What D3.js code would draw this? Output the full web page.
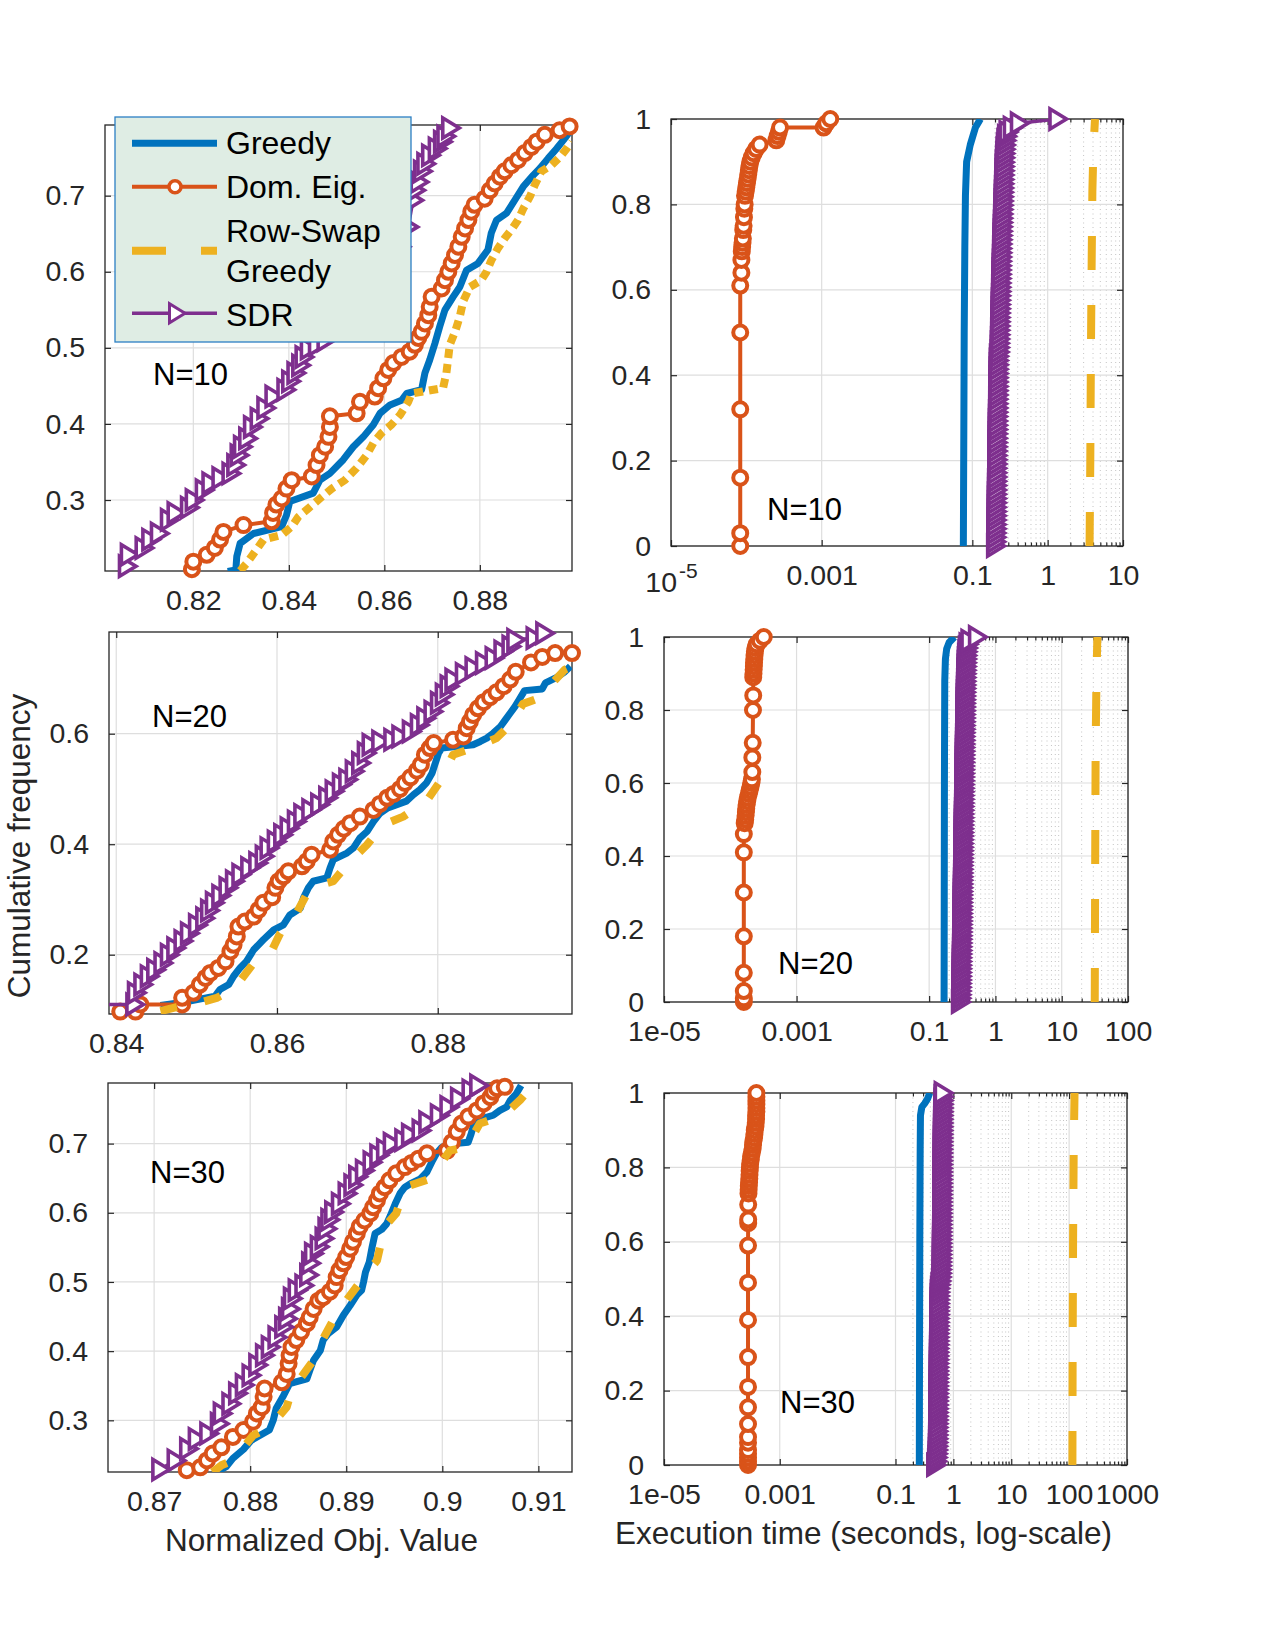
<!DOCTYPE html>
<html>
<head>
<meta charset="utf-8">
<script src="https://cdn.jsdelivr.net/npm/d3@7"></script>
<style>
  body { margin: 0; background: #fff; }
  svg { display: block; }
</style>
</head>
<body>
<div id="chart"></div>
<script>
// ---- data -------------------------------------------------------------
const methods = ["Greedy", "Dom. Eig.", "Row-Swap Greedy", "SDR"];
const panelLabels = ["N=10", "N=20", "N=30"];
const axisTitles = ["Cumulative frequency", "Normalized Obj. Value", "Execution time (seconds, log-scale)"];

const objTicks10 = [0.82, 0.84, 0.86, 0.88];
const objTicks20 = [0.84, 0.86, 0.88];
const objTicks30 = [0.87, 0.88, 0.89, 0.9, 0.91];
const freqTicks10 = [0.3, 0.4, 0.5, 0.6, 0.7];
const freqTicks20 = [0.2, 0.4, 0.6];
const freqTicks30 = [0.3, 0.4, 0.5, 0.6, 0.7];
const freqTicksTime = [0, 0.2, 0.4, 0.6, 0.8, 1];
const timeTicks10 = [1e-5, 1e-3, 0.1, 1, 10];
const timeTicks20 = [1e-5, 1e-3, 0.1, 1, 10, 100];
const timeTicks30 = [1e-5, 1e-3, 0.1, 1, 10, 100, 1000];

// normalized objective value vs cumulative frequency, N=10
const objGreedy10 = [[0.8272,0.206],[0.8289,0.208],[0.8291,0.226],[0.8298,0.243],[0.8326,0.256],[0.8385,0.265],[0.8395,0.280],[0.8402,0.298],[0.8451,0.309],[0.8465,0.326],[0.8486,0.335],[0.8514,0.353],[0.8535,0.370],[0.8556,0.383],[0.8577,0.399],[0.8591,0.414],[0.8612,0.425],[0.8636,0.431],[0.8647,0.440],[0.8678,0.445],[0.8685,0.467],[0.8695,0.484],[0.8706,0.506],[0.8716,0.528],[0.8727,0.550],[0.8744,0.567],[0.8758,0.580],[0.8772,0.602],[0.8796,0.611],[0.8817,0.629],[0.8824,0.651],[0.8835,0.668],[0.8856,0.677],[0.8873,0.694],[0.8891,0.712],[0.8912,0.727],[0.8926,0.736],[0.8943,0.749],[0.8961,0.762],[0.8975,0.773],[0.8988,0.784],[0.8992,0.793]];
const objDomEig10 = [[0.8197,0.209],[0.8200,0.219],[0.8228,0.228],[0.8245,0.237],[0.8256,0.248],[0.8263,0.258],[0.8305,0.267],[0.8364,0.272],[0.8367,0.283],[0.8374,0.294],[0.8385,0.302],[0.8395,0.315],[0.8406,0.326],[0.8448,0.331],[0.8458,0.346],[0.8465,0.359],[0.8476,0.370],[0.8483,0.383],[0.8486,0.396],[0.8486,0.410],[0.8542,0.414],[0.8549,0.429],[0.8580,0.436],[0.8587,0.447],[0.8598,0.460],[0.8608,0.471],[0.8619,0.480],[0.8636,0.488],[0.8653,0.495],[0.8664,0.504],[0.8671,0.513],[0.8678,0.521],[0.8685,0.532],[0.8692,0.543],[0.8695,0.554],[0.8699,0.567],[0.8720,0.578],[0.8727,0.589],[0.8734,0.600],[0.8741,0.611],[0.8748,0.622],[0.8755,0.633],[0.8762,0.646],[0.8769,0.657],[0.8776,0.668],[0.8782,0.679],[0.8789,0.688],[0.8810,0.696],[0.8821,0.707],[0.8831,0.716],[0.8842,0.725],[0.8852,0.732],[0.8866,0.740],[0.8880,0.747],[0.8894,0.756],[0.8908,0.764],[0.8919,0.771],[0.8936,0.780],[0.8967,0.786],[0.8988,0.791]];
const objRowSwap10 = [[0.8298,0.207],[0.8312,0.217],[0.8329,0.232],[0.8347,0.248],[0.8385,0.254],[0.8406,0.265],[0.8420,0.278],[0.8441,0.289],[0.8465,0.302],[0.8490,0.315],[0.8517,0.326],[0.8542,0.342],[0.8563,0.359],[0.8577,0.375],[0.8594,0.388],[0.8615,0.399],[0.8633,0.412],[0.8650,0.429],[0.8657,0.440],[0.8723,0.447],[0.8730,0.467],[0.8734,0.488],[0.8737,0.504],[0.8748,0.521],[0.8758,0.541],[0.8765,0.561],[0.8779,0.580],[0.8803,0.589],[0.8814,0.600],[0.8824,0.615],[0.8838,0.631],[0.8852,0.644],[0.8866,0.655],[0.8880,0.668],[0.8891,0.683],[0.8905,0.699],[0.8915,0.714],[0.8929,0.732],[0.8950,0.740],[0.8968,0.751],[0.8982,0.762],[0.8992,0.771]];
const objSdr10 = [[0.8060,0.213],[0.8064,0.228],[0.8095,0.237],[0.8109,0.248],[0.8127,0.256],[0.8148,0.274],[0.8162,0.283],[0.8190,0.290],[0.8200,0.300],[0.8221,0.313],[0.8235,0.322],[0.8256,0.329],[0.8277,0.335],[0.8287,0.346],[0.8294,0.359],[0.8301,0.370],[0.8312,0.381],[0.8322,0.396],[0.8336,0.407],[0.8350,0.421],[0.8367,0.436],[0.8392,0.445],[0.8402,0.456],[0.8413,0.467],[0.8423,0.477],[0.8430,0.488],[0.8441,0.499],[0.8458,0.504],[0.8476,0.510],[0.8500,0.523],[0.8528,0.541],[0.8556,0.563],[0.8584,0.585],[0.8612,0.607],[0.8633,0.633],[0.8650,0.659],[0.8660,0.694],[0.8664,0.707],[0.8671,0.718],[0.8678,0.732],[0.8685,0.742],[0.8695,0.753],[0.8709,0.762],[0.8720,0.771],[0.8727,0.778],[0.8737,0.789]];

// N=20
const objGreedy20 = [[0.8455,0.108],[0.8488,0.115],[0.8523,0.125],[0.8529,0.137],[0.8540,0.146],[0.8546,0.161],[0.8554,0.176],[0.8562,0.188],[0.8571,0.209],[0.8583,0.227],[0.8596,0.245],[0.8608,0.254],[0.8616,0.272],[0.8629,0.284],[0.8633,0.303],[0.8639,0.321],[0.8645,0.333],[0.8662,0.339],[0.8666,0.357],[0.8670,0.372],[0.8687,0.384],[0.8695,0.393],[0.8703,0.411],[0.8712,0.423],[0.8720,0.441],[0.8728,0.456],[0.8737,0.465],[0.8761,0.478],[0.8770,0.490],[0.8778,0.499],[0.8786,0.511],[0.8793,0.529],[0.8797,0.547],[0.8801,0.565],[0.8805,0.574],[0.8844,0.580],[0.8853,0.586],[0.8861,0.592],[0.8869,0.601],[0.8878,0.613],[0.8884,0.625],[0.8890,0.637],[0.8896,0.649],[0.8901,0.661],[0.8908,0.678],[0.8930,0.681],[0.8934,0.692],[0.8948,0.702],[0.8958,0.712],[0.8965,0.722]];
const objDomEig20 = [[0.8405,0.097],[0.8424,0.097],[0.8430,0.110],[0.8482,0.110],[0.8482,0.122],[0.8496,0.131],[0.8504,0.146],[0.8511,0.158],[0.8517,0.167],[0.8527,0.176],[0.8536,0.188],[0.8542,0.206],[0.8546,0.218],[0.8550,0.233],[0.8552,0.251],[0.8560,0.260],[0.8571,0.269],[0.8577,0.281],[0.8583,0.294],[0.8594,0.304],[0.8598,0.321],[0.8602,0.333],[0.8608,0.342],[0.8614,0.351],[0.8631,0.360],[0.8637,0.369],[0.8643,0.381],[0.8666,0.390],[0.8670,0.405],[0.8676,0.417],[0.8683,0.428],[0.8691,0.438],[0.8703,0.450],[0.8720,0.462],[0.8728,0.473],[0.8737,0.484],[0.8745,0.491],[0.8753,0.500],[0.8759,0.511],[0.8766,0.521],[0.8774,0.533],[0.8779,0.544],[0.8784,0.562],[0.8790,0.574],[0.8795,0.583],[0.8819,0.589],[0.8832,0.595],[0.8836,0.610],[0.8840,0.622],[0.8844,0.634],[0.8850,0.646],[0.8857,0.657],[0.8865,0.666],[0.8873,0.675],[0.8882,0.686],[0.8890,0.698],[0.8897,0.712],[0.8916,0.729],[0.8930,0.739],[0.8946,0.746],[0.8967,0.746]];
const objRowSwap20 = [[0.8455,0.098],[0.8475,0.105],[0.8504,0.113],[0.8525,0.122],[0.8546,0.137],[0.8571,0.185],[0.8591,0.200],[0.8604,0.239],[0.8621,0.266],[0.8641,0.321],[0.8670,0.333],[0.8691,0.369],[0.8712,0.399],[0.8732,0.435],[0.8757,0.450],[0.8786,0.478],[0.8803,0.514],[0.8819,0.562],[0.8844,0.574],[0.8873,0.592],[0.8890,0.616],[0.8906,0.654],[0.8925,0.664],[0.8958,0.716],[0.8967,0.722]];
const objSdr20 = [[0.8386,0.110],[0.8422,0.110],[0.8424,0.131],[0.8432,0.146],[0.8440,0.161],[0.8448,0.173],[0.8457,0.185],[0.8465,0.200],[0.8473,0.212],[0.8482,0.225],[0.8490,0.239],[0.8500,0.254],[0.8509,0.266],[0.8515,0.280],[0.8521,0.294],[0.8529,0.307],[0.8538,0.321],[0.8546,0.333],[0.8554,0.345],[0.8565,0.357],[0.8575,0.366],[0.8583,0.378],[0.8589,0.393],[0.8598,0.405],[0.8606,0.417],[0.8614,0.429],[0.8623,0.441],[0.8631,0.453],[0.8641,0.462],[0.8652,0.472],[0.8662,0.484],[0.8670,0.496],[0.8679,0.508],[0.8687,0.517],[0.8695,0.532],[0.8703,0.547],[0.8710,0.565],[0.8716,0.580],[0.8728,0.586],[0.8743,0.589],[0.8753,0.595],[0.8766,0.604],[0.8776,0.616],[0.8784,0.628],[0.8793,0.640],[0.8801,0.656],[0.8807,0.671],[0.8813,0.686],[0.8819,0.698],[0.8832,0.708],[0.8844,0.719],[0.8857,0.728],[0.8869,0.737],[0.8880,0.749],[0.8890,0.758],[0.8896,0.770],[0.8920,0.773],[0.8932,0.782]];

// N=30
const objGreedy30 = [[0.8765,0.225],[0.8775,0.233],[0.8782,0.245],[0.8793,0.258],[0.8801,0.271],[0.8820,0.286],[0.8824,0.300],[0.8827,0.317],[0.8834,0.334],[0.8841,0.353],[0.8859,0.360],[0.8862,0.372],[0.8866,0.387],[0.8873,0.401],[0.8876,0.416],[0.8881,0.425],[0.8890,0.435],[0.8897,0.452],[0.8904,0.466],[0.8911,0.481],[0.8916,0.488],[0.8918,0.500],[0.8920,0.514],[0.8924,0.529],[0.8927,0.551],[0.8930,0.570],[0.8937,0.576],[0.8942,0.584],[0.8946,0.596],[0.8951,0.613],[0.8956,0.628],[0.8961,0.637],[0.8968,0.643],[0.8977,0.649],[0.8984,0.659],[0.8990,0.676],[0.8994,0.686],[0.8999,0.694],[0.9005,0.699],[0.9027,0.702],[0.9030,0.714],[0.9032,0.724],[0.9036,0.734],[0.9053,0.741],[0.9060,0.748],[0.9067,0.753],[0.9071,0.763],[0.9077,0.772],[0.9082,0.784]];
const objDomEig30 = [[0.8734,0.228],[0.8748,0.232],[0.8755,0.242],[0.8761,0.252],[0.8770,0.261],[0.8782,0.276],[0.8793,0.286],[0.8803,0.298],[0.8807,0.310],[0.8812,0.319],[0.8814,0.334],[0.8815,0.346],[0.8833,0.355],[0.8838,0.367],[0.8840,0.382],[0.8841,0.394],[0.8843,0.406],[0.8848,0.416],[0.8853,0.428],[0.8859,0.440],[0.8862,0.449],[0.8866,0.461],[0.8871,0.473],[0.8876,0.478],[0.8883,0.486],[0.8888,0.495],[0.8890,0.507],[0.8893,0.517],[0.8897,0.527],[0.8900,0.536],[0.8904,0.548],[0.8907,0.558],[0.8911,0.570],[0.8914,0.580],[0.8919,0.589],[0.8925,0.599],[0.8928,0.608],[0.8932,0.618],[0.8935,0.628],[0.8940,0.637],[0.8945,0.647],[0.8952,0.657],[0.8961,0.666],[0.8968,0.672],[0.8975,0.678],[0.8984,0.686],[0.9005,0.690],[0.9010,0.702],[0.9015,0.717],[0.9020,0.729],[0.9027,0.739],[0.9036,0.748],[0.9043,0.758],[0.9050,0.767],[0.9053,0.775],[0.9057,0.780],[0.9065,0.782]];
const objRowSwap30 = [[0.8761,0.225],[0.8770,0.235],[0.8782,0.242],[0.8803,0.278],[0.8820,0.290],[0.8838,0.319],[0.8843,0.343],[0.8866,0.387],[0.8874,0.413],[0.8890,0.454],[0.8900,0.473],[0.8921,0.512],[0.8932,0.531],[0.8940,0.580],[0.8952,0.599],[0.8961,0.637],[0.8987,0.649],[0.9008,0.690],[0.9025,0.695],[0.9039,0.729],[0.9064,0.741],[0.9081,0.763],[0.9093,0.782]];
const objSdr30 = [[0.8706,0.229],[0.8722,0.242],[0.8735,0.259],[0.8744,0.273],[0.8756,0.281],[0.8767,0.295],[0.8770,0.310],[0.8779,0.324],[0.8786,0.339],[0.8793,0.351],[0.8800,0.365],[0.8807,0.380],[0.8814,0.394],[0.8820,0.406],[0.8827,0.420],[0.8834,0.435],[0.8838,0.447],[0.8841,0.461],[0.8843,0.476],[0.8848,0.488],[0.8855,0.495],[0.8860,0.510],[0.8862,0.527],[0.8865,0.541],[0.8871,0.551],[0.8876,0.563],[0.8879,0.577],[0.8882,0.590],[0.8886,0.601],[0.8893,0.613],[0.8900,0.628],[0.8906,0.640],[0.8911,0.652],[0.8918,0.661],[0.8926,0.673],[0.8933,0.683],[0.8940,0.691],[0.8947,0.700],[0.8959,0.705],[0.8966,0.713],[0.8977,0.719],[0.8984,0.731],[0.8996,0.741],[0.9006,0.753],[0.9017,0.765],[0.9029,0.777],[0.9037,0.784]];

// execution time (s) vs cumulative frequency
const timeGreedy10 = [[0.076,0],[0.077,0.25],[0.078,0.5],[0.0795,0.7],[0.081,0.82],[0.084,0.9],[0.094,0.94],[0.11,0.98],[0.128,1.0]];
const timeDomEig10 = [[8.3e-5,0],[8.3e-5,0.03],[8.3e-5,0.16],[8.3e-5,0.32],[8.3e-5,0.50],[8.3e-5,0.61],[8.6e-5,0.64],[8.6e-5,0.67],[8.7e-5,0.69],[8.8e-5,0.70],[8.9e-5,0.71],[9.0e-5,0.72],[9.1e-5,0.74],[9.2e-5,0.75],[9.3e-5,0.77],[9.4e-5,0.79],[9.5e-5,0.80],[9.6e-5,0.82],[9.8e-5,0.83],[1.0e-4,0.84],[1.02e-4,0.85],[1.04e-4,0.86],[1.06e-4,0.87],[1.08e-4,0.88],[1.1e-4,0.89],[1.13e-4,0.90],[1.18e-4,0.91],[1.25e-4,0.92],[1.35e-4,0.93],[1.5e-4,0.94],[2.5e-4,0.95],[2.6e-4,0.96],[2.7e-4,0.97],[2.8e-4,0.98],[1.06e-3,0.98],[1.15e-3,0.99],[1.3e-3,1.0]];
const timeRowSwap10 = [[3.6,0],[3.68,0.2],[3.75,0.45],[3.84,0.67],[3.92,0.83],[4.05,0.93],[4.25,1.0]];
const sdrTime10 = [
  0.198,0.199,0.200,0.200,0.201,0.201,0.201,0.202,0.202,0.202,
  0.203,0.203,0.203,0.204,0.204,0.204,0.205,0.205,0.205,0.206,
  0.206,0.206,0.207,0.207,0.207,0.208,0.208,0.209,0.209,0.209,
  0.210,0.210,0.211,0.211,0.211,0.212,0.212,0.213,0.213,0.213,
  0.214,0.214,0.215,0.215,0.216,0.221,0.222,0.222,0.223,0.224,
  0.224,0.225,0.226,0.226,0.227,0.228,0.228,0.229,0.230,0.231,
  0.231,0.232,0.233,0.234,0.234,0.235,0.236,0.237,0.238,0.238,
  0.239,0.240,0.241,0.242,0.243,0.244,0.245,0.246,0.247,0.248,
  0.249,0.250,0.251,0.252,0.253,0.254,0.255,0.256,0.257,0.258,
  0.260,0.262,0.264,0.267,0.271,0.277,0.290,0.330,0.410,1.330];

const timeGreedy20 = [[0.168,0],[0.169,0.3],[0.170,0.6],[0.172,0.88],[0.176,0.94],[0.184,0.968],[0.2,0.985],[0.24,1.0]];
const timeDomEig20 = [[1.6e-4,0],[1.6e-4,0.01],[1.6e-4,0.03],[1.6e-4,0.08],[1.6e-4,0.18],[1.6e-4,0.30],[1.6e-4,0.41],[1.6e-4,0.46],[1.65e-4,0.49],[1.68e-4,0.50],[1.7e-4,0.51],[1.72e-4,0.52],[1.74e-4,0.53],[1.76e-4,0.54],[1.8e-4,0.55],[1.84e-4,0.56],[1.9e-4,0.57],[1.96e-4,0.58],[2.02e-4,0.59],[2.08e-4,0.60],[2.12e-4,0.61],[2.15e-4,0.63],[2.15e-4,0.67],[2.18e-4,0.71],[2.2e-4,0.80],[2.22e-4,0.84],[2.22e-4,0.89],[2.24e-4,0.90],[2.25e-4,0.91],[2.27e-4,0.92],[2.28e-4,0.93],[2.3e-4,0.94],[2.32e-4,0.95],[2.35e-4,0.96],[2.4e-4,0.97],[2.5e-4,0.98],[2.8e-4,0.99],[3.2e-4,1.0]];
const timeRowSwap20 = [[31.5,0],[32,0.4],[32.5,0.7],[33.5,0.9],[34.5,1.0]];
const sdrTime20 = [
  0.288,0.290,0.291,0.292,0.293,0.293,0.294,0.295,0.295,0.296,
  0.296,0.297,0.297,0.298,0.299,0.299,0.300,0.300,0.301,0.301,
  0.302,0.302,0.303,0.304,0.304,0.305,0.305,0.306,0.306,0.307,
  0.307,0.308,0.309,0.309,0.310,0.310,0.311,0.311,0.312,0.313,
  0.313,0.314,0.314,0.315,0.315,0.316,0.317,0.317,0.318,0.318,
  0.319,0.319,0.320,0.321,0.321,0.322,0.322,0.323,0.324,0.324,
  0.325,0.325,0.326,0.327,0.327,0.328,0.328,0.329,0.330,0.330,
  0.331,0.332,0.332,0.333,0.334,0.334,0.335,0.336,0.336,0.337,
  0.338,0.338,0.339,0.340,0.341,0.342,0.343,0.344,0.345,0.346,
  0.347,0.349,0.351,0.353,0.356,0.360,0.366,0.375,0.400,0.520];

const timeGreedy30 = [[0.258,0],[0.26,0.3],[0.263,0.6],[0.267,0.85],[0.27,0.94],[0.285,0.962],[0.32,0.972],[0.36,0.985],[0.39,1.0]];
const timeDomEig30 = [[2.83e-4,0],[2.83e-4,0.01],[2.83e-4,0.02],[2.83e-4,0.03],[2.83e-4,0.04],[2.83e-4,0.06],[2.83e-4,0.075],[2.83e-4,0.11],[2.83e-4,0.155],[2.83e-4,0.21],[2.83e-4,0.29],[2.83e-4,0.39],[2.83e-4,0.49],[2.83e-4,0.59],[2.85e-4,0.65],[2.85e-4,0.66],[2.85e-4,0.70],[2.88e-4,0.73],[2.9e-4,0.74],[2.92e-4,0.75],[2.95e-4,0.76],[2.98e-4,0.77],[3.0e-4,0.78],[3.02e-4,0.79],[3.05e-4,0.80],[3.08e-4,0.81],[3.15e-4,0.82],[3.2e-4,0.83],[3.3e-4,0.84],[3.4e-4,0.85],[3.45e-4,0.86],[3.5e-4,0.87],[3.6e-4,0.88],[3.65e-4,0.89],[3.7e-4,0.90],[3.8e-4,0.91],[3.85e-4,0.92],[3.9e-4,0.93],[3.9e-4,0.94],[3.95e-4,0.95],[3.95e-4,0.96],[3.95e-4,0.97],[3.95e-4,0.98],[3.95e-4,0.99],[3.95e-4,1.0]];
const timeRowSwap30 = [[114,0],[115,0.3],[117,0.6],[120,0.85],[124,1.0]];
const sdrTime30 = [
  0.478,0.495,0.503,0.507,0.510,0.512,0.514,0.515,0.516,0.517,
  0.518,0.519,0.520,0.521,0.522,0.523,0.523,0.524,0.525,0.526,
  0.527,0.527,0.528,0.529,0.530,0.531,0.531,0.532,0.533,0.534,
  0.535,0.535,0.536,0.537,0.538,0.539,0.540,0.540,0.541,0.542,
  0.543,0.544,0.545,0.546,0.547,0.549,0.551,0.556,0.566,0.580,
  0.590,0.594,0.596,0.597,0.598,0.599,0.600,0.601,0.602,0.602,
  0.603,0.604,0.605,0.605,0.606,0.607,0.608,0.608,0.609,0.610,
  0.611,0.611,0.612,0.613,0.614,0.614,0.615,0.616,0.617,0.617,
  0.618,0.619,0.620,0.621,0.621,0.622,0.623,0.624,0.625,0.626,
  0.627,0.628,0.629,0.630,0.632,0.633,0.635,0.637,0.640,0.645];

// ---- drawing ----------------------------------------------------------
const FONT = '"Liberation Sans", Arial, Helvetica, sans-serif';
const INK = "#262626";
const COLORS = ["#0072bd", "#d95319", "#edb120", "#7e2f8e"];
const TRI = "M-7,-10L-7,10L9.5,0Z";

// empirical CDF from sorted samples
const ecdf = s => s.map((v, i) => [v, i / (s.length - 1)]);

const fmtLin = d3.format("~g");
const fmtTime = d => d === 1e-5 ? "1e-05" : d3.format("~g")(d);

const panels = [
  { left: 105, right: 572, top: 125, bottom: 571, log: false,
    xDomain: [0.8015, 0.8993], yDomain: [0.2067, 0.7929],
    xTicks: objTicks10, yTicks: freqTicks10, fmt: fmtLin, label: panelLabels[0], labelAt: [153, 385],
    series: [objGreedy10, objDomEig10, objRowSwap10, objSdr10], dash: "9,6" },
  { left: 671, right: 1123, top: 119, bottom: 546, log: true, sup: true,
    xDomain: [1e-5, 10], yDomain: [0, 1],
    xTicks: timeTicks10, yTicks: freqTicksTime, fmt: fmtTime, label: panelLabels[0], labelAt: [767, 520],
    series: [timeGreedy10, timeDomEig10, timeRowSwap10, ecdf(sdrTime10)], dash: "34,35" },
  { left: 109, right: 572, top: 632, bottom: 1014, log: false,
    xDomain: [0.8391, 0.8967], yDomain: [0.0927, 0.7841],
    xTicks: objTicks20, yTicks: freqTicks20, fmt: fmtLin, label: panelLabels[1], labelAt: [152, 727],
    series: [objGreedy20, objDomEig20, objRowSwap20, objSdr20], dash: "17,28" },
  { left: 664, right: 1128, top: 637, bottom: 1002, log: true,
    xDomain: [1e-5, 100], yDomain: [0, 1],
    xTicks: timeTicks20, yTicks: freqTicksTime, fmt: fmtTime, label: panelLabels[1], labelAt: [778, 974],
    series: [timeGreedy20, timeDomEig20, timeRowSwap20, ecdf(sdrTime20)], dash: "34,35" },
  { left: 108, right: 572, top: 1083, bottom: 1472, log: false,
    xDomain: [0.8652, 0.9135], yDomain: [0.2253, 0.7876],
    xTicks: objTicks30, yTicks: freqTicks30, fmt: fmtLin, label: panelLabels[2], labelAt: [150, 1183],
    series: [objGreedy30, objDomEig30, objRowSwap30, objSdr30], dash: "17,28" },
  { left: 664, right: 1127, top: 1093, bottom: 1465, log: true,
    xDomain: [1e-5, 1000], yDomain: [0, 1],
    xTicks: timeTicks30, yTicks: freqTicksTime, fmt: fmtTime, label: panelLabels[2], labelAt: [780, 1413],
    series: [timeGreedy30, timeDomEig30, timeRowSwap30, ecdf(sdrTime30)], dash: "34,35" }
];

const svg = d3.select("#chart").append("svg")
    .attr("width", 1275).attr("height", 1650)
    .style("background", "#fff")
    .attr("font-family", FONT);
const defs = svg.append("defs");

function styleAxis(sel, withText) {
  sel.attr("font-size", null).attr("font-family", null);
  sel.select(".domain").remove();
  sel.selectAll(".tick line").attr("stroke", INK).attr("stroke-width", 1.2);
  if (withText) sel.selectAll(".tick text").attr("fill", INK).attr("font-size", 28.5);
}

function drawPanel(p, k) {
  const x = (p.log ? d3.scaleLog() : d3.scaleLinear()).domain(p.xDomain).range([p.left, p.right]);
  const y = d3.scaleLinear().domain(p.yDomain).range([p.bottom, p.top]);
  const g = svg.append("g");

  defs.append("clipPath").attr("id", "clip" + k).append("rect")
      .attr("x", p.left).attr("y", p.top)
      .attr("width", p.right - p.left).attr("height", p.bottom - p.top);

  // minor log grid (only shown from 0.2 upward, as in the figure)
  let minors = [];
  if (p.log) {
    const hi = Math.round(Math.log10(p.xDomain[1]));
    for (let e = -1; e < hi; e++) for (let m = 2; m <= 9; m++) minors.push(m * Math.pow(10, e));
    g.append("g").selectAll("line").data(minors).join("line")
        .attr("x1", d => x(d)).attr("x2", d => x(d))
        .attr("y1", p.top).attr("y2", p.bottom)
        .attr("stroke", "#c4c4c4").attr("stroke-width", 1).attr("stroke-dasharray", "1,3.5");
  }

  // major grid
  g.append("g").selectAll("line").data(p.xTicks).join("line")
      .attr("x1", d => x(d)).attr("x2", d => x(d))
      .attr("y1", p.top).attr("y2", p.bottom)
      .attr("stroke", "#dedede").attr("stroke-width", 1.2);
  g.append("g").selectAll("line").data(p.yTicks).join("line")
      .attr("x1", p.left).attr("x2", p.right)
      .attr("y1", d => y(d)).attr("y2", d => y(d))
      .attr("stroke", "#dedede").attr("stroke-width", 1.2);

  // axes, ticks pointing inward
  const bottomAxis = g.append("g").attr("transform", `translate(0,${p.bottom})`)
      .call(d3.axisBottom(x).tickValues(p.xTicks).tickFormat(p.fmt).tickSize(-6).tickSizeOuter(0).tickPadding(19));
  styleAxis(bottomAxis, true);
  const topAxis = g.append("g").attr("transform", `translate(0,${p.top})`)
      .call(d3.axisTop(x).tickValues(p.xTicks).tickFormat("").tickSize(-6).tickSizeOuter(0));
  styleAxis(topAxis, false);
  const leftAxis = g.append("g").attr("transform", `translate(${p.left},0)`)
      .call(d3.axisLeft(y).tickValues(p.yTicks).tickFormat(fmtLin).tickSize(-6).tickSizeOuter(0).tickPadding(20));
  styleAxis(leftAxis, true);
  const rightAxis = g.append("g").attr("transform", `translate(${p.right},0)`)
      .call(d3.axisRight(y).tickValues(p.yTicks).tickFormat("").tickSize(-6).tickSizeOuter(0));
  styleAxis(rightAxis, false);

  if (p.log) {
    [[d3.axisBottom, p.bottom], [d3.axisTop, p.top]].forEach(([ax, pos]) => {
      const m = g.append("g").attr("transform", `translate(0,${pos})`)
          .call(ax(x).tickValues(minors).tickFormat("").tickSize(-3.5).tickSizeOuter(0));
      styleAxis(m, false);
    });
  }

  if (p.sup) {
    const t = bottomAxis.selectAll(".tick text").filter(d => d === 1e-5);
    t.text("10").attr("dy", "0.96em");
    t.append("tspan").attr("dx", 2).attr("dy", -14).attr("font-size", 21).text("-5");
  }

  g.append("rect")
      .attr("x", p.left).attr("y", p.top)
      .attr("width", p.right - p.left).attr("height", p.bottom - p.top)
      .attr("fill", "none").attr("stroke", INK).attr("stroke-width", 1.3);

  // series
  const line = d3.line().x(d => x(d[0])).y(d => y(d[1]));
  const inside = d => d[0] >= p.xDomain[0] && d[0] <= p.xDomain[1] && d[1] >= p.yDomain[0] - 1e-9 && d[1] <= p.yDomain[1];
  const plot = g.append("g");

  p.series.forEach((data, i) => {
    const path = plot.append("g").attr("clip-path", `url(#clip${k})`)
        .append("path").datum(data).attr("d", line)
        .attr("fill", "none").attr("stroke", COLORS[i])
        .attr("stroke-linejoin", "round");
    if (i === 0) path.attr("stroke-width", 7);
    if (i === 1) path.attr("stroke-width", 4);
    if (i === 2) path.attr("stroke-width", 8).attr("stroke-dasharray", p.dash);
    if (i === 3) path.attr("stroke-width", 3.5);

    if (i === 1) {
      plot.append("g").selectAll("circle").data(data.filter(inside)).join("circle")
          .attr("cx", d => x(d[0])).attr("cy", d => y(d[1])).attr("r", 7)
          .attr("fill", "#fff").attr("stroke", COLORS[1]).attr("stroke-width", 4);
    }
    if (i === 3) {
      plot.append("g").selectAll("path").data(data.filter(inside)).join("path")
          .attr("d", TRI)
          .attr("transform", d => `translate(${x(d[0])},${y(d[1])})`)
          .attr("fill", "#fff").attr("stroke", COLORS[3]).attr("stroke-width", 3.6)
          .attr("stroke-linejoin", "miter");
    }
  });

  g.append("text")
      .attr("x", p.labelAt[0]).attr("y", p.labelAt[1])
      .attr("font-size", 31).attr("fill", "#000")
      .text(p.label);
}

panels.forEach(drawPanel);

// axis titles
svg.append("text")
    .attr("transform", "translate(30,846) rotate(-90)")
    .attr("text-anchor", "middle").attr("font-size", 31.5).attr("fill", INK)
    .text(axisTitles[0]);
svg.append("text")
    .attr("x", 321.5).attr("y", 1551)
    .attr("text-anchor", "middle").attr("font-size", 31.5).attr("fill", INK)
    .text(axisTitles[1]);
svg.append("text")
    .attr("x", 863.5).attr("y", 1544)
    .attr("text-anchor", "middle").attr("font-size", 31.5).attr("fill", INK)
    .text(axisTitles[2]);

// legend (top-left panel)
const legend = svg.append("g");
legend.append("rect")
    .attr("x", 115).attr("y", 117).attr("width", 296).attr("height", 225)
    .attr("fill", "#dfede4").attr("stroke", "#2c7fc4").attr("stroke-width", 1.3);

const legendRows = [
  { lineY: 143.3, text: [[methods[0], 154]] },
  { lineY: 186.7, text: [[methods[1], 198]] },
  { lineY: 250.7, text: [[methods[2].split(" ")[0], 242], [methods[2].split(" ")[1], 282]] },
  { lineY: 313.3, text: [[methods[3], 326]] }
];
legendRows.forEach((r, i) => {
  const l = legend.append("line")
      .attr("x1", 132).attr("x2", 217).attr("y1", r.lineY).attr("y2", r.lineY)
      .attr("stroke", COLORS[i]);
  if (i === 0) l.attr("stroke-width", 7);
  if (i === 1) l.attr("stroke-width", 4);
  if (i === 2) l.attr("stroke-width", 8).attr("stroke-dasharray", "34,35");
  if (i === 3) l.attr("stroke-width", 3.5);
  if (i === 1) legend.append("circle").attr("cx", 175).attr("cy", r.lineY).attr("r", 6)
      .attr("fill", "#fff").attr("stroke", COLORS[1]).attr("stroke-width", 3.5);
  if (i === 3) legend.append("path").attr("d", "M-6.5,-9.5L-6.5,9.5L9,0Z")
      .attr("transform", `translate(176,${r.lineY})`)
      .attr("fill", "#fff").attr("stroke", COLORS[3]).attr("stroke-width", 3);
  r.text.forEach(([t, yb]) => {
    legend.append("text").attr("x", 226).attr("y", yb)
        .attr("font-size", 32).attr("fill", "#000").text(t);
  });
});
</script>
</body>
</html>
